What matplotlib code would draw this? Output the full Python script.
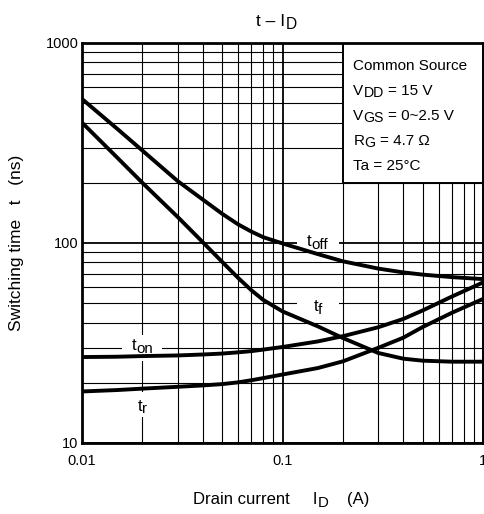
import matplotlib
matplotlib.use("Agg")
import matplotlib.pyplot as plt
from matplotlib.patches import Rectangle
from matplotlib.transforms import ScaledTranslation
from matplotlib.ticker import FixedLocator, FixedFormatter, LogLocator, NullFormatter

plt.rcParams['font.family'] = ['Liberation Sans', 'DejaVu Sans']

# ---- data: switching times vs drain current ----
drain_current = [0.01, 0.015, 0.02, 0.03, 0.04, 0.05, 0.06, 0.07, 0.08, 0.1,
                 0.15, 0.2, 0.3, 0.4, 0.5, 0.7, 1.0]
t_off = [525, 372, 290, 204, 165, 140, 124, 114, 107, 99.5,
         88, 81, 74.5, 71.3, 69.5, 67.5, 66]
t_f = [400, 267, 200, 135, 101, 80.5, 67, 58, 52, 45.5,
       38.3, 33.5, 28.2, 26.4, 25.8, 25.5, 25.5]
t_on = [26.9, 27.0, 27.2, 27.4, 27.7, 28.0, 28.4, 28.8, 29.3, 30.2,
        32.2, 34.2, 37.9, 41.7, 46.0, 54.0, 63.5]
t_r = [18.1, 18.4, 18.7, 19.1, 19.4, 19.7, 20.1, 20.6, 21.1, 22.0,
       23.7, 25.6, 29.9, 33.6, 38.0, 44.8, 52.5]

x_ticks = [0.01, 0.1, 1]
x_tick_labels = ["0.01", "0.1", "1"]
y_ticks = [10, 100, 1000]
y_tick_labels = ["10", "100", "1000"]

# curve labels: (main, subscript, x, text baseline y, box centre y, box w px, box h px)
curve_labels = [
    ("t", "off", 0.15, 96.5, 100, 42, 14),
    ("t", "f", 0.15, 45.7, 50, 42, 14),
    ("t", "on", 0.02, 29.1, 30, 40, 26),
    ("t", "r", 0.02, 14.5, 15.6, 24, 25),
]

# conditions box
cond_box = (0.2, 200, 1.0, 1000)
cond_lines = [
    [("Common Source", False)],
    [("V", False), ("DD", True), (" = 15 V", False)],
    [("V", False), ("GS", True), (" = 0~2.5 V", False)],
    [("R", False), ("G", True), (" = 4.7 \u03a9", False)],
    [("Ta = 25\u00b0C", False)],
]

fig = plt.figure(figsize=(4.84, 5.14), dpi=100)
ax = fig.add_axes([82 / 484, 71 / 514, 401 / 484, 400 / 514])
ax.set_xscale('log')
ax.set_yscale('log')
ax.set_xlim(0.01, 1)
ax.set_ylim(10, 1000)

ax.xaxis.set_major_locator(FixedLocator(x_ticks))
ax.xaxis.set_major_formatter(FixedFormatter(x_tick_labels))
ax.yaxis.set_major_locator(FixedLocator(y_ticks))
ax.yaxis.set_major_formatter(FixedFormatter(y_tick_labels))
for axis in (ax.xaxis, ax.yaxis):
    axis.set_minor_locator(LogLocator(base=10, subs=range(2, 10)))
    axis.set_minor_formatter(NullFormatter())
ax.tick_params(which='both', length=0)
ax.tick_params(axis='x', labelsize=10.5, pad=8)
ax.tick_params(axis='y', labelsize=10.5, pad=2.5)

ax.grid(which='major', color='k', lw=1.3)
ax.grid(which='minor', color='k', lw=0.8)
for sp in ax.spines.values():
    sp.set_linewidth(2.0)
    sp.set_zorder(6)

for series in (t_off, t_f, t_on, t_r):
    ax.plot(drain_current, series, color='k', lw=2.8, zorder=4,
            solid_joinstyle='round', solid_capstyle='butt')

renderer = fig.canvas.get_renderer()
PX_PER_PT = fig.dpi / 72.0


def advance(s, fs):
    """Horizontal advance of a string in pixels."""
    if not s:
        return 0.0
    probe = fig.text(0, 0, '|' + s + '|', fontsize=fs)
    ref = fig.text(0, 0, '||', fontsize=fs)
    w = probe.get_window_extent(renderer).width - ref.get_window_extent(renderer).width
    probe.remove()
    ref.remove()
    return w


def rich_text(base, anchor, parts, size, sub_size, dx=0.0, dy=0.0, ha='left',
              zorder=7):
    """Draw text with lowered, slightly smaller subscript pieces."""
    items = []
    for s, is_sub in parts:
        fs = sub_size if is_sub else size
        core = s.strip(' ')
        lead = len(s) - len(s.lstrip(' '))
        trail = len(s) - len(s.rstrip(' '))
        sp = advance(' ', fs) if (lead or trail) else 0.0
        items.append((core, fs, is_sub, lead * sp, advance(core, fs), trail * sp))
    total = sum(a + b + c for _, _, _, a, b, c in items)
    x = dx - {'left': 0.0, 'center': total / 2.0, 'right': total}[ha]
    tr = ScaledTranslation(anchor[0], anchor[1], base)
    for core, fs, is_sub, lead_w, w, trail_w in items:
        x += lead_w
        y = dy - (0.16 * size * PX_PER_PT if is_sub else 0.0)
        ax.text(x, y, core, fontsize=fs, transform=tr, ha='left',
                va='baseline', zorder=zorder, clip_on=False)
        x += w + trail_w


# conditions box with its text
bx0, by0, bx1, by1 = cond_box
ax.add_patch(Rectangle((bx0, by0), bx1 - bx0, by1 - by0, facecolor='white',
                       edgecolor='k', lw=1.4, zorder=2.2))
for i, line in enumerate(cond_lines):
    rich_text(ax.transData, (bx0, by1), line, 11, 10.2, dx=10.5, dy=-26.7 - 25 * i)

# curve labels on white patches
for main, sub, lx, ly, cy, bw, bh in curve_labels:
    patch = Rectangle((-bw / 2, -bh / 2), bw, bh, facecolor='white',
                      edgecolor='none', zorder=2.5,
                      transform=ScaledTranslation(lx, cy, ax.transData))
    ax.add_artist(patch)
    rich_text(ax.transData, (lx, ly), [(main, False), (sub, True)], 12, 10.8,
              ha='center')

# title and axis labels
rich_text(ax.transAxes, (0.5, 1.0), [("t \u2013 I", False), ("D", True)],
          12.5, 11.2, dx=-6, dy=17, ha='center')
rich_text(ax.transAxes, (0.5, 0.0),
          [("Drain current     I", False), ("D", True), ("    (A)", False)],
          12, 10.8, dx=-1, dy=-61, ha='center')
ax.text(-65.3, 0, "Switching time   t   (ns)", fontsize=12.5, rotation=90,
        ha='center', va='center', clip_on=False,
        transform=ScaledTranslation(0.0, 0.5, ax.transAxes))

fig.savefig("out.png", dpi=100, facecolor='white')
